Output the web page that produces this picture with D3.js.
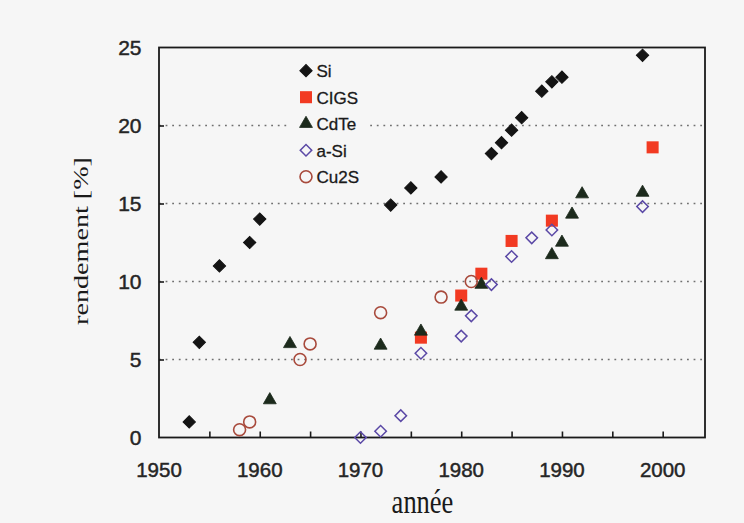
<!DOCTYPE html>
<html>
<head>
<meta charset="utf-8">
<script src="https://cdn.jsdelivr.net/npm/d3@7"></script>
<style>
  html, body { margin: 0; padding: 0; background: #f6f6f6; }
  svg { display: block; }
</style>
</head>
<body>
<svg id="chart" width="744" height="523"></svg>
<script>
// Photovoltaic cell efficiency records by technology (year, efficiency %)
const siYears    = [1953, 1954, 1956, 1959, 1960, 1973, 1975, 1978, 1983, 1984, 1985, 1986, 1988, 1989, 1990, 1998];
const siValues   = [1.0, 6.1, 11.0, 12.5, 14.0, 14.9, 16.0, 16.7, 18.2, 18.9, 19.7, 20.5, 22.2, 22.8, 23.1, 24.5];

const cigsYears  = [1976, 1980, 1982, 1985, 1989, 1999];
const cigsValues = [6.4, 9.1, 10.5, 12.6, 13.9, 18.6];

const cdteYears  = [1961, 1963, 1972, 1976, 1980, 1982, 1989, 1990, 1991, 1992, 1998];
const cdteValues = [2.4, 6.0, 5.9, 6.8, 8.4, 9.8, 11.7, 12.5, 14.3, 15.6, 15.7];

const asiYears   = [1970, 1972, 1974, 1976, 1980, 1981, 1983, 1985, 1987, 1989, 1998];
const asiValues  = [0.0, 0.4, 1.4, 5.4, 6.5, 7.8, 9.8, 11.6, 12.8, 13.3, 14.8];

const cu2sYears  = [1958, 1959, 1964, 1965, 1972, 1978, 1981];
const cu2sValues = [0.5, 1.0, 5.0, 6.0, 8.0, 9.0, 10.0];

const xTickLabels = [1950, 1960, 1970, 1980, 1990, 2000];
const xMinorTicks = [1955, 1965, 1975, 1985, 1995];
const yTickLabels = [0, 5, 10, 15, 20, 25];
const gridValues  = [5, 10, 15, 20];

const seriesNames = ["Si", "CIGS", "CdTe", "a-Si", "Cu2S"];

const svg = d3.select("#chart");
const plotLeft = 159, plotRight = 705, plotTop = 47.5, plotBottom = 437.5;

const x = d3.scaleLinear().domain([1950, 2004.2]).range([plotLeft, plotRight]);
const y = d3.scaleLinear().domain([0, 25]).range([plotBottom, plotTop]);

const sym = (type, size) => d3.symbol().type(type).size(size)();

const styles = {
  "Si":   { path: sym(d3.symbolSquare, 76), rot: 45, fill: "#141414", stroke: "#141414", sw: 1 },
  "CIGS": { path: sym(d3.symbolSquare, 145), rot: 0, fill: "#f23a22", stroke: "none", sw: 0 },
  "CdTe": { path: sym(d3.symbolTriangle, 72), rot: 0, fill: "#1c2a1c", stroke: "#1c2a1c", sw: 0.8 },
  "a-Si": { path: sym(d3.symbolSquare, 66), rot: 45, fill: "none", stroke: "#5b49a6", sw: 1.5 },
  "Cu2S": { path: sym(d3.symbolCircle, 112), rot: 0, fill: "none", stroke: "#a84a3c", sw: 1.6 }
};

const sansFont = "Liberation Sans, Arial, sans-serif";
const serifFont = "Liberation Serif, Times New Roman, serif";

// Dotted horizontal gridlines
svg.append("g").selectAll("line").data(gridValues).join("line")
  .attr("x1", plotLeft).attr("x2", plotRight)
  .attr("y1", d => y(d)).attr("y2", d => y(d))
  .attr("stroke", "#707070").attr("stroke-width", 1.6)
  .attr("stroke-dasharray", "1.8,4.8");

// Frame
svg.append("rect")
  .attr("x", plotLeft).attr("y", plotTop)
  .attr("width", plotRight - plotLeft).attr("height", plotBottom - plotTop)
  .attr("fill", "none").attr("stroke", "#1a1a1a").attr("stroke-width", 1.8);

// Axes with inward ticks
const xAxis = d3.axisBottom(x).tickValues([...xTickLabels, ...xMinorTicks].filter(d => d > 1950))
  .tickSize(-6).tickFormat("");
const gx = svg.append("g").attr("transform", `translate(0,${plotBottom})`).call(xAxis);
gx.select(".domain").remove();
gx.selectAll(".tick line").attr("stroke", "#1a1a1a").attr("stroke-width", 1.6);

svg.append("g").selectAll("text").data(xTickLabels).join("text")
  .attr("x", d => x(d)).attr("y", 477)
  .attr("text-anchor", "middle")
  .attr("font-family", sansFont)
  .attr("font-size", 20.5).attr("fill", "#252525")
  .attr("stroke", "#252525").attr("stroke-width", 0.45)
  .text(d => d);

const yAxis = d3.axisLeft(y).tickValues(yTickLabels.filter(d => d > 0 && d < 25))
  .tickSize(-5).tickFormat("");
const gy = svg.append("g").attr("transform", `translate(${plotLeft},0)`).call(yAxis);
gy.select(".domain").remove();
gy.selectAll(".tick line").attr("stroke", "#1a1a1a").attr("stroke-width", 1.6);

svg.append("g").selectAll("text").data(yTickLabels).join("text")
  .attr("x", 141.5).attr("y", d => y(d) + 7.5)
  .attr("text-anchor", "end")
  .attr("font-family", sansFont)
  .attr("font-size", 21).attr("fill", "#252525")
  .attr("stroke", "#252525").attr("stroke-width", 0.45)
  .text(d => d);

// Axis titles (slightly tall serif lettering)
svg.append("text")
  .attr("transform", "translate(422.5,513) scale(1,1.3)")
  .attr("text-anchor", "middle")
  .attr("font-family", serifFont)
  .attr("font-size", 26.5).attr("fill", "#1a1a1a")
  .text("année");

svg.append("text")
  .attr("transform", `translate(88,241) rotate(-90) scale(1.28,1)`)
  .attr("text-anchor", "middle")
  .attr("font-family", serifFont)
  .attr("font-size", 22).attr("fill", "#1a1a1a")
  .text("rendement [%]");

// Data markers
function drawSeries(name, xs, vs) {
  const s = styles[name];
  svg.append("g").selectAll("path").data(xs.map((d, i) => [d, vs[i]])).join("path")
    .attr("d", s.path)
    .attr("transform", d => `translate(${x(d[0])},${y(d[1])}) rotate(${s.rot})`)
    .attr("fill", s.fill).attr("stroke", s.stroke).attr("stroke-width", s.sw);
}
drawSeries("CIGS", cigsYears, cigsValues);
drawSeries("CdTe", cdteYears, cdteValues);
drawSeries("a-Si", asiYears, asiValues);
drawSeries("Cu2S", cu2sYears, cu2sValues);
drawSeries("Si", siYears, siValues);

// Legend
const legend = svg.append("g").attr("transform", "translate(288,56)");
legend.append("rect").attr("x", 0).attr("y", 0).attr("width", 80).attr("height", 134)
  .attr("fill", "#f6f6f6");
const item = legend.selectAll("g").data(seriesNames).join("g")
  .attr("transform", (d, i) => `translate(18,${14.7 + i * 26.5})`);
item.append("path")
  .attr("d", d => styles[d].path)
  .attr("transform", d => `rotate(${styles[d].rot})`)
  .attr("fill", d => styles[d].fill).attr("stroke", d => styles[d].stroke)
  .attr("stroke-width", d => styles[d].sw);
item.append("text")
  .attr("x", 10.5).attr("y", 6.3)
  .attr("font-family", sansFont)
  .attr("font-size", 17).attr("fill", "#1a1a1a")
  .attr("stroke", "#1a1a1a").attr("stroke-width", 0.3)
  .text(d => d);
</script>
</body>
</html>
